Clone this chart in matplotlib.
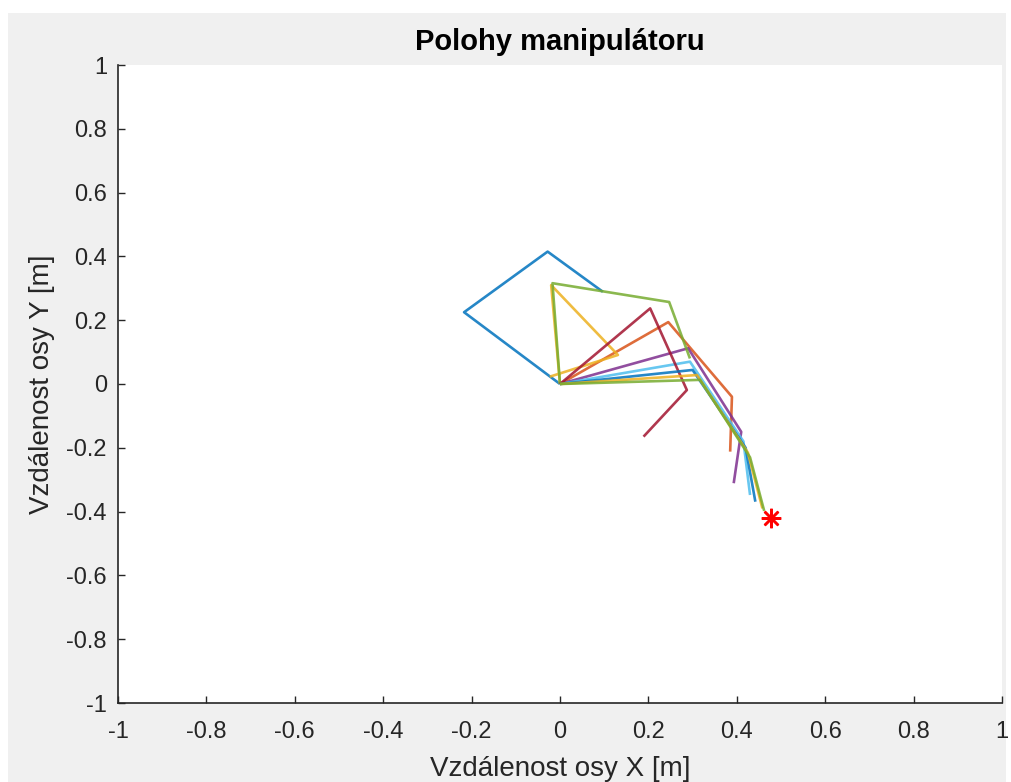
import matplotlib
matplotlib.use("Agg")
import matplotlib.pyplot as plt
from matplotlib.patches import Rectangle

plt.rcParams['font.family'] = ['Liberation Sans', 'DejaVu Sans']

# Manipulator poses (joint coordinates: base, joint1, joint2, end effector)
pose_colors = ['#0072BD', '#D95319', '#EDB120', '#7E2F8E', '#77AC30',
               '#4DBEEE', '#A2142F', '#0072BD', '#EDB120', '#77AC30']
pose_x = [
    [0.0, -0.217, -0.028, 0.097],
    [0.0, 0.245, 0.389, 0.385],
    [0.0, -0.020, 0.131, -0.023],
    [0.0, 0.290, 0.410, 0.393],
    [0.0, -0.017, 0.247, 0.294],
    [0.0, 0.294, 0.415, 0.430],
    [0.0, 0.204, 0.287, 0.189],
    [0.0, 0.300, 0.420, 0.442],
    [0.0, 0.310, 0.425, 0.458],
    [0.0, 0.317, 0.430, 0.462],
]
pose_y = [
    [0.0, 0.225, 0.415, 0.289],
    [0.0, 0.194, -0.040, -0.212],
    [0.0, 0.310, 0.091, 0.023],
    [0.0, 0.112, -0.150, -0.311],
    [0.0, 0.316, 0.257, 0.080],
    [0.0, 0.070, -0.180, -0.348],
    [0.0, 0.237, -0.019, -0.165],
    [0.0, 0.044, -0.200, -0.369],
    [0.0, 0.028, -0.215, -0.390],
    [0.0, 0.013, -0.230, -0.398],
]
target_x = [0.477]
target_y = [-0.421]

ticks = [-1, -0.8, -0.6, -0.4, -0.2, 0, 0.2, 0.4, 0.6, 0.8, 1]
tick_labels = ['-1', '-0.8', '-0.6', '-0.4', '-0.2', '0', '0.2', '0.4', '0.6', '0.8', '1']

W, H = 1011, 782
fig = plt.figure(figsize=(W / 100, H / 100), dpi=100, facecolor='white')
fig.patches.append(Rectangle((8 / W, 0), (1006 - 8) / W, (H - 13) / H,
                             transform=fig.transFigure, facecolor='#f0f0f0',
                             edgecolor='none', zorder=-10))

ax = fig.add_axes([118 / W, (H - 703) / H, (1002 - 118) / W, (703 - 65) / H])
ax.set_facecolor('white')

for xs, ys, c in zip(pose_x, pose_y, pose_colors):
    ax.plot(xs, ys, color=c, lw=1.9, solid_capstyle='butt', alpha=0.85)

ax.plot(target_x, target_y, linestyle='none', marker=(8, 2, 0), markersize=14,
        markeredgewidth=1.8, color='#FF0000')

ax.set_xlim(-1, 1)
ax.set_ylim(-1, 1)
ax.set_xticks(ticks)
ax.set_xticklabels(tick_labels)
ax.set_yticks(ticks)
ax.set_yticklabels(tick_labels)

for s in ['top', 'right']:
    ax.spines[s].set_visible(False)
for s in ['left', 'bottom']:
    ax.spines[s].set_color('#262626')
    ax.spines[s].set_linewidth(1.2)

ax.tick_params(direction='in', length=5, width=1.0, color='#262626',
               labelcolor='#262626', labelsize=17)
ax.tick_params(axis='y', pad=8)
ax.tick_params(axis='x', pad=13)

ax.set_title('Polohy manipulátoru', fontsize=21, fontweight='bold',
             color='black', pad=11)
ax.set_xlabel('Vzdálenost osy X [m]', fontsize=20, color='#262626', labelpad=9)
ax.set_ylabel('Vzdálenost osy Y [m]', fontsize=20, color='#262626', labelpad=8)

fig.savefig('out.png', dpi=100, facecolor=fig.get_facecolor())
